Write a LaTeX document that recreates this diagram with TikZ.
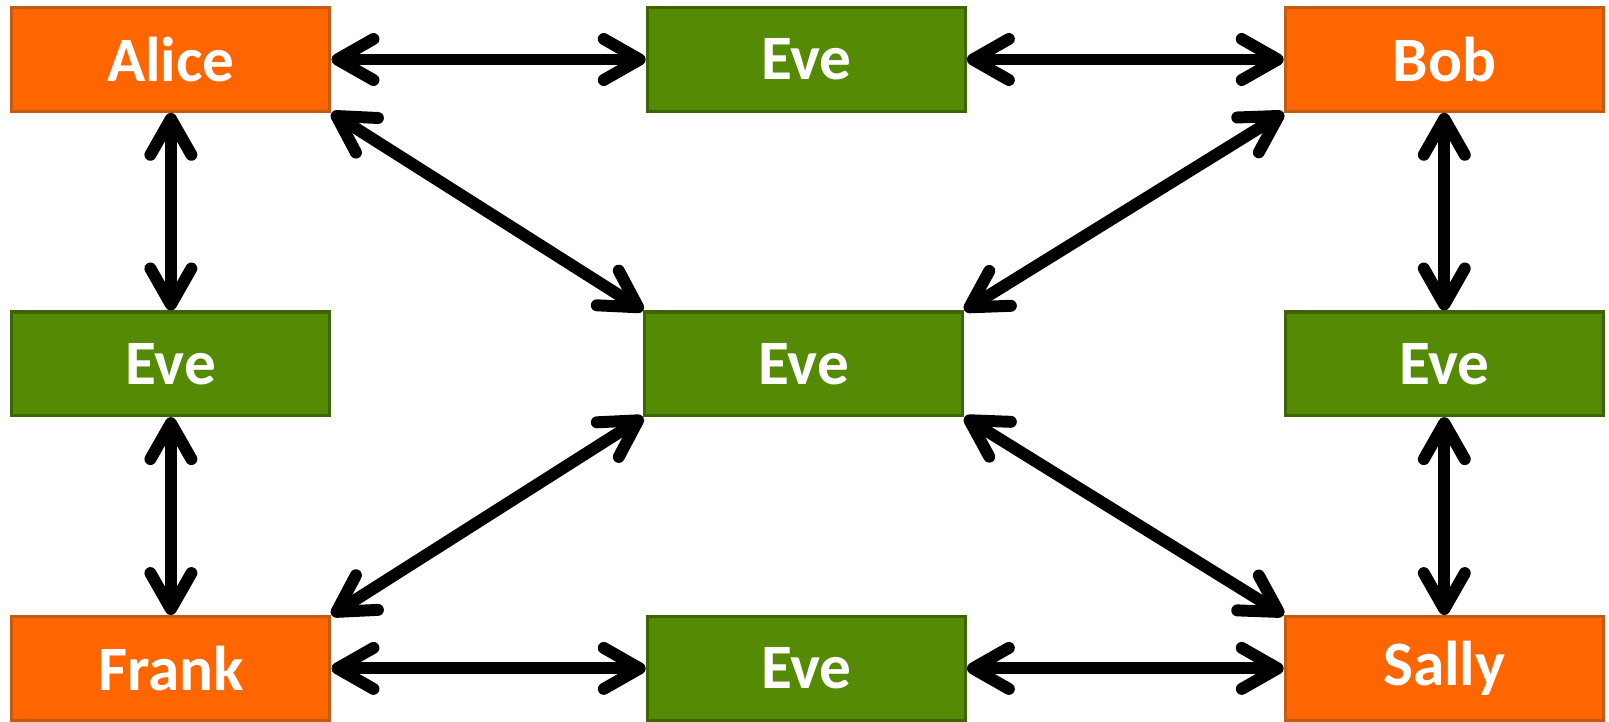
\documentclass[tikz,border=0pt]{standalone}
\usepackage{fontspec}
\setmainfont{Carlito}
\usetikzlibrary{arrows.meta}

\definecolor{peer}{HTML}{FF6600}
\definecolor{peerline}{HTML}{C55A11}
\definecolor{spy}{HTML}{548A04}
\definecolor{spyline}{HTML}{3D6503}

\begin{document}
\begin{tikzpicture}[
    box/.style={rectangle, minimum width=6.36cm, minimum height=2.07cm, line width=1.8pt,
                text=white, font=\fontsize{36}{40}\selectfont\bfseries},
    party/.style={box, fill=peer, draw=peerline},
    eve/.style={box, fill=spy, draw=spyline},
    link/.style={<->, line width=6.8pt, line cap=round},
    >={Straight Barb[round,length=0.72cm,width=0.82cm]}
  ]
  \useasboundingbox (0,0) rectangle (32.18,-14.44);

  % corners
  \node[party] (alice) at (3.418,-1.19) {Alice};
  \node[party] (bob)   at (28.886,-1.19) {Bob};
  \node[party] (frank) at (3.418,-13.368) {Frank};
  \node[party] (sally) at (28.886,-13.368) {Sally};

  % eavesdroppers
  \node[eve] (top)    at (16.126,-1.19) {Eve};
  \node[eve] (left)   at (3.418,-7.276) {Eve};
  \node[eve] (mid)    at (16.076,-7.276) {Eve};
  \node[eve] (right)  at (28.886,-7.276) {Eve};
  \node[eve] (bottom) at (16.126,-13.368) {Eve};

  % horizontal links
  \foreach \a/\b in {alice/top, top/bob, frank/bottom, bottom/sally}
    \draw[link] (\a.east) -- (\b.west);
  % vertical links
  \foreach \a/\b in {alice/left, left/frank, bob/right, right/sally}
    \draw[link] (\a.south) -- (\b.north);
  % through the middle
  \draw[link] (alice.south east) -- (mid.north west);
  \draw[link] (bob.south west) -- (mid.north east);
  \draw[link] (mid.south west) -- (frank.north east);
  \draw[link] (mid.south east) -- (sally.north west);
\end{tikzpicture}
\end{document}
